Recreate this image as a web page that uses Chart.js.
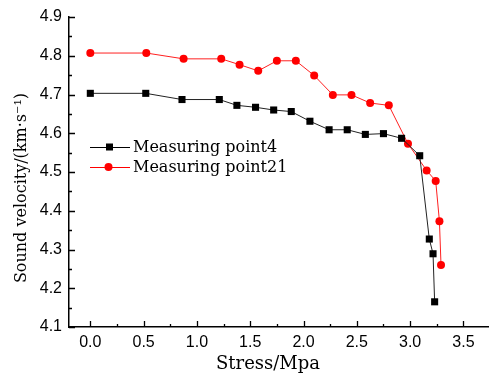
<!DOCTYPE html>
<html>
<head>
<meta charset="utf-8">
<script src="https://cdn.jsdelivr.net/npm/chart.js@4"></script>
<style>
  html, body { margin: 0; padding: 0; background: #fff; }
  #wrap { width: 489px; height: 376px; position: relative; }
</style>
</head>
<body>
<div id="wrap"><canvas id="chart" width="489" height="376"></canvas></div>
<script>
// data
const stress4 = [0, 0.52, 0.86, 1.21, 1.375, 1.55, 1.72, 1.885, 2.06, 2.24, 2.41, 2.58, 2.75, 2.92, 3.09, 3.18, 3.215, 3.23];
const velocity4 = [4.703, 4.703, 4.687, 4.687, 4.672, 4.667, 4.66, 4.656, 4.631, 4.609, 4.609, 4.597, 4.599, 4.587, 4.542, 4.327, 4.289, 4.165];

const stress21 = [0, 0.525, 0.875, 1.228, 1.40, 1.575, 1.75, 1.928, 2.1, 2.275, 2.45, 2.625, 2.80, 2.98, 3.155, 3.24, 3.275, 3.29];
const velocity21 = [4.807, 4.807, 4.792, 4.792, 4.777, 4.761, 4.787, 4.787, 4.749, 4.699, 4.699, 4.678, 4.672, 4.573, 4.504, 4.477, 4.373, 4.26];

const seriesNames = ["Measuring point4", "Measuring point21"];
const xTicks = [0, 0.5, 1, 1.5, 2, 2.5, 3, 3.5];
const xMinor = [0.25, 0.75, 1.25, 1.75, 2.25, 2.75, 3.25];
const yTicks = [4.1, 4.2, 4.3, 4.4, 4.5, 4.6, 4.7, 4.8, 4.9];
const yMinor = [4.15, 4.25, 4.35, 4.45, 4.55, 4.65, 4.75, 4.85];

const toPoints = (xs, ys) => xs.map((x, i) => ({ x: x, y: ys[i] }));

const serif = "'DejaVu Serif', 'Liberation Serif', serif";
const sans = "'Liberation Sans', Arial, sans-serif";

// inward ticks, axis titles and legend
const extras = {
  id: "extras",
  afterDraw(chart) {
    const ctx = chart.ctx;
    const xs = chart.scales.x;
    const ys = chart.scales.y;
    const area = chart.chartArea;
    ctx.save();
    ctx.strokeStyle = "#000";
    ctx.lineWidth = 1.3;
    ctx.beginPath();
    xTicks.forEach((v) => {
      const p = Math.round(xs.getPixelForValue(v)) + 0.5;
      ctx.moveTo(p, area.bottom);
      ctx.lineTo(p, area.bottom - 6);
    });
    xMinor.forEach((v) => {
      const p = Math.round(xs.getPixelForValue(v)) + 0.5;
      ctx.moveTo(p, area.bottom);
      ctx.lineTo(p, area.bottom - 3);
    });
    yTicks.forEach((v) => {
      const p = Math.round(ys.getPixelForValue(v)) + 0.5;
      ctx.moveTo(area.left, p);
      ctx.lineTo(area.left + 6, p);
    });
    yMinor.forEach((v) => {
      const p = Math.round(ys.getPixelForValue(v)) + 0.5;
      ctx.moveTo(area.left, p);
      ctx.lineTo(area.left + 3, p);
    });
    ctx.stroke();

    // axis titles
    ctx.fillStyle = "#000";
    ctx.font = "18px " + serif;
    ctx.textAlign = "center";
    ctx.textBaseline = "middle";
    ctx.fillText("Stress/Mpa", 268, 364);

    ctx.save();
    ctx.translate(22, 188);
    ctx.rotate(-Math.PI / 2);
    ctx.font = "16px " + serif;
    ctx.fillText("Sound velocity/(km\u00b7s\u207b\u00b9)", 0, 0);
    ctx.restore();

    // legend
    const rows = [
      { y: 147, color: "#000", style: "rect" },
      { y: 167, color: "#ff0000", style: "circle" },
    ];
    ctx.font = "16px " + serif;
    ctx.textAlign = "left";
    rows.forEach((r, i) => {
      ctx.strokeStyle = r.color;
      ctx.lineWidth = 1;
      ctx.beginPath();
      ctx.moveTo(90, r.y + 0.5);
      ctx.lineTo(130, r.y + 0.5);
      ctx.stroke();
      ctx.fillStyle = r.color;
      if (r.style === "rect") {
        ctx.fillRect(106, r.y - 3.5, 7, 7);
      } else {
        ctx.beginPath();
        ctx.arc(108.5, r.y, 4, 0, Math.PI * 2);
        ctx.fill();
      }
      ctx.fillStyle = "#000";
      ctx.fillText(seriesNames[i], 133, r.y + 1);
    });
    ctx.restore();
  },
};

const chart = new Chart(document.getElementById("chart"), {
  type: "scatter",
  data: {
    datasets: [
      {
        label: seriesNames[0],
        data: toPoints(stress4, velocity4),
        showLine: true,
        borderColor: "#222",
        borderWidth: 1,
        backgroundColor: "#000",
        pointStyle: "rect",
        pointRadius: 5,
        pointBorderWidth: 0,
        tension: 0,
      },
      {
        label: seriesNames[1],
        data: toPoints(stress21, velocity21),
        showLine: true,
        borderColor: "#ff2020",
        borderWidth: 1,
        backgroundColor: "#ff0000",
        pointStyle: "circle",
        pointRadius: 4,
        pointBorderWidth: 0,
        tension: 0,
      },
    ],
  },
  options: {
    responsive: false,
    animation: false,
    layout: { autoPadding: false, padding: { top: 17, right: 0, left: 0, bottom: 0 } },
    plugins: { legend: { display: false }, tooltip: { enabled: false } },
    scales: {
      x: {
        type: "linear",
        min: -0.2,
        max: 3.74,
        afterFit: (s) => { s.height = 49; },
        grid: { drawOnChartArea: false, drawTicks: false },
        border: { display: true, color: "#000", width: 1.5 },
        ticks: {
          stepSize: 0.5,
          includeBounds: false,
          padding: 6,
          color: "#000",
          font: { family: sans, size: 16 },
          callback: (v) => Number(v).toFixed(1),
        },
      },
      y: {
        min: 4.1,
        max: 4.9,
        afterFit: (s) => { s.width = 69; },
        grid: { drawOnChartArea: false, drawTicks: false },
        border: { display: true, color: "#000", width: 1.5 },
        ticks: {
          stepSize: 0.1,
          padding: 7,
          color: "#000",
          font: { family: sans, size: 16 },
          callback: (v) => Number(v).toFixed(1),
        },
      },
    },
  },
  plugins: [extras],
});
</script>
</body>
</html>
